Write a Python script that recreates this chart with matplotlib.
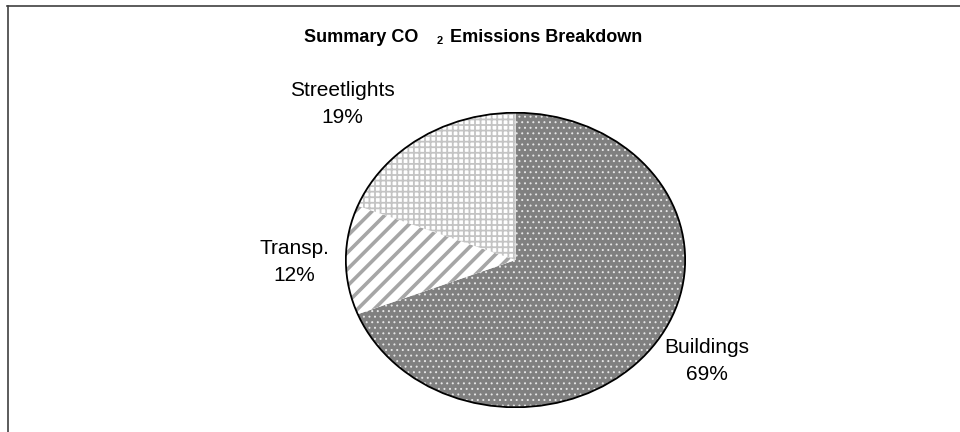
import matplotlib
matplotlib.use("Agg")
import matplotlib.pyplot as plt
from matplotlib.patches import Circle
from matplotlib.lines import Line2D

plt.rcParams['font.family'] = ['Liberation Sans', 'DejaVu Sans']

# data
categories = ['Buildings', 'Transp.', 'Streetlights']
shares = [69, 12, 19]

# styles per slice
face_cols = ['#808080', 'white', 'white']
hatch_cols = ['#e6e6e6', '#a6a6a6', '#c4c4c4']
hatches = ['...', '//', '+++']
hatch_lw = [0.7, 2.6, 1.3]

W, H = 960, 432
fig = plt.figure(figsize=(W / 100, H / 100), dpi=100)

# pie axes (elliptical pie: aspect auto)
ax = fig.add_axes([345 / W, (H - 408) / H, 341 / W, 296 / H])
wedges, _ = ax.pie(shares, startangle=90, counterclock=False,
                   colors=face_cols, radius=1)
for w, fc, hc, h, lw in zip(wedges, face_cols, hatch_cols, hatches, hatch_lw):
    w.set_facecolor(fc)
    w.set_edgecolor(hc)
    w.set_linewidth(0)
    w.set_hatch(h)
    if hasattr(w, 'set_hatch_linewidth'):
        w.set_hatch_linewidth(lw)
ax.add_patch(Circle((0, 0), 1, fill=False, edgecolor='black', linewidth=1.3))
ax.set_aspect('auto')
ax.set_xlim(-1.005, 1.005)
ax.set_ylim(-1.005, 1.005)
ax.axis('off')

# labels
label_pos = [(707, 361), (294, 262), (342, 104)]
for cat, val, (px, py) in zip(categories, shares, label_pos):
    fig.text(px / W, 1 - py / H, f"{cat}\n{val}%", ha='center', va='center',
             fontsize=15, linespacing=1.5, color='black')

# title with subscript
ty = 1 - 42 / H
fig.text(418 / W, ty, "Summary CO", ha='right', va='baseline',
         fontsize=13, fontweight='bold')
fig.text(440 / W, 1 - 44 / H, "2", ha='center', va='baseline',
         fontsize=8, fontweight='bold')
fig.text(450 / W, ty, "Emissions Breakdown", ha='left', va='baseline',
         fontsize=13, fontweight='bold')

# chart area border (top and left visible)
fig.add_artist(Line2D([7 / W, 1.0], [1 - 5.5 / H, 1 - 5.5 / H],
                      transform=fig.transFigure, color='#404040', linewidth=1.2))
fig.add_artist(Line2D([7.5 / W, 7.5 / W], [0, 1 - 5.5 / H],
                      transform=fig.transFigure, color='#404040', linewidth=1.2))

fig.savefig("out.png", dpi=100, facecolor='white')
